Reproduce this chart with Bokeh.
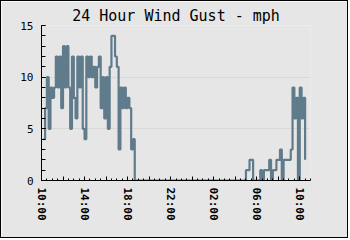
from bokeh.plotting import figure
from bokeh.models import FixedTicker, Range1d
from bokeh.embed import file_html
from bokeh.resources import INLINE

title_text = "24 Hour Wind Gust - mph"

# minutes after 10:00 (one reading every 10 minutes, 10:10 .. 10:30 next day)
sample_minutes = list(range(10, 1480, 10))

gust_mph = (
    [4, 7, 10, 5, 9, 8, 9, 12, 9, 12, 7, 13, 9, 13, 9, 5, 12, 8, 6, 12,
     9, 12, 5, 4, 12, 10, 12, 10, 11, 9, 11, 12, 7, 10, 6, 10, 5, 11, 14, 14,
     12, 11, 3, 9, 7, 9, 7, 8, 7, 3, 4]
    + [0] * 62
    + [1, 1, 2, 2, 0, 0, 0, 0, 1, 0, 1, 1, 1, 2, 0, 1, 1, 2, 2, 3,
       0, 2, 2, 2, 2, 3, 9, 6, 8, 0, 9, 6, 8, 2]
)

tick_hours = [0, 4, 8, 12, 16, 20, 24]
tick_labels = ["10:00", "14:00", "18:00", "22:00", "02:00", "06:00", "10:00"]
y_ticks = [0, 5, 10, 15]

hours = [m / 60 for m in sample_minutes]

BG = "#e6e6e6"
LINE = "#607B8B"

p = figure(width=348, height=238, output_backend="svg", toolbar_location=None,
           x_range=Range1d(0, 25), y_range=Range1d(0, 15),
           min_border_left=40, min_border_right=39, min_border_top=24,
           min_border_bottom=59)
p.styles = {"border": "1px solid black"}
p.background_fill_color = BG
p.border_fill_color = BG
p.outline_line_color = None

p.title.text = title_text
p.title.align = "center"
p.title.text_font = "DejaVu Sans Mono"
p.title.text_font_size = "15px"
p.title.text_font_style = "normal"
p.title.text_color = "black"
p.title.standoff = 2

p.step(hours, gust_mph, mode="after", line_color=LINE, line_width=2.2)

# axes
xa = p.xaxis[0]
major_x = list(range(0, 25, 2))
xa.ticker = FixedTicker(ticks=major_x, minor_ticks=[h / 2 for h in range(0, 51)])
overrides = {h: "" for h in major_x}
for h, lab in zip(tick_hours, tick_labels):
    overrides[h] = lab
xa.major_label_overrides = overrides
xa.major_label_orientation = "vertical"
xa.major_label_text_font = "DejaVu Sans Mono"
xa.major_label_text_font_size = "11px"
xa.major_label_text_font_style = "bold"
xa.major_label_text_color = "black"
xa.major_label_standoff = 7
xa.major_tick_in = 4
xa.major_tick_out = 0
xa.minor_tick_in = 2
xa.minor_tick_out = 0
xa.axis_line_color = "black"
xa.major_tick_line_color = "black"
xa.minor_tick_line_color = "black"

ya = p.yaxis[0]
ya.ticker = FixedTicker(ticks=y_ticks, minor_ticks=list(range(0, 16)))
ya.major_label_text_font = "DejaVu Sans Mono"
ya.major_label_text_font_size = "11px"
ya.major_label_text_color = "black"
ya.major_label_standoff = 8
ya.major_tick_in = 4
ya.major_tick_out = 0
ya.minor_tick_in = 4
ya.minor_tick_out = 0
ya.axis_line_color = "black"
ya.major_tick_line_color = "black"
ya.minor_tick_line_color = "black"

p.xgrid.grid_line_color = None
p.ygrid.grid_line_color = "#d9d9d9"

open("out.html", "w").write(file_html(p, INLINE))
